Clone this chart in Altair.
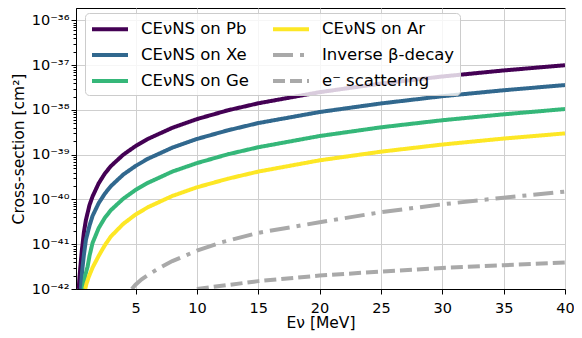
import altair as alt
import pandas as pd

# ---- data ----
names = ["CEνNS on Pb", "CEνNS on Xe", "CEνNS on Ge", "CEνNS on Ar", "Inverse β-decay", "e⁻ scattering"]
colors = ["#440154", "#31688e", "#35b779", "#fde725", "#a9a9a9", "#a9a9a9"]
dashes = [[1, 0], [1, 0], [1, 0], [1, 0], [20, 7, 4, 7], [12, 5]]
widths = [4, 4, 4, 4, 4, 3]

pb_E = [0.37, 0.42, 0.5, 0.63, 0.8, 0.96, 1.25, 1.5, 2, 2.5, 3, 4, 5, 6, 8, 10, 12.5, 15, 20, 25, 30, 35, 40]
pb_s = [1.0e-42, 1.6e-42, 3.0e-42, 7.5e-42, 1.9e-41, 3.5e-41, 7.5e-41, 1.17e-40, 2.3e-40, 3.8e-40, 5.6e-40,
        1.0e-39, 1.56e-39, 2.25e-39, 4.0e-39, 6.25e-39, 9.8e-39, 1.41e-38, 2.5e-38, 3.9e-38, 5.6e-38, 7.65e-38, 1.0e-37]

xe_E = [0.55, 0.62, 0.69, 0.8, 0.96, 1.25, 1.5, 2, 2.5, 3, 4, 5, 6, 8, 10, 12.5, 15, 20, 25, 30, 35, 40]
xe_s = [1.0e-42, 2.0e-42, 3.2e-42, 6.0e-42, 1.26e-41, 2.6e-41, 4.3e-41, 8.3e-41, 1.35e-40, 2.0e-40, 3.6e-40,
        5.6e-40, 8.1e-40, 1.44e-39, 2.25e-39, 3.5e-39, 5.1e-39, 9.0e-39, 1.4e-38, 2.03e-38, 2.76e-38, 3.6e-38]

ge_E = [0.77, 0.9, 1.1, 1.25, 1.5, 2, 2.5, 3, 4, 5, 6, 8, 10, 12.5, 15, 20, 25, 30, 35, 40]
ge_s = [1.0e-42, 2.0e-42, 3.2e-42, 5.5e-42, 1.07e-41, 2.3e-41, 3.9e-41, 5.8e-41, 1.04e-40, 1.63e-40, 2.35e-40,
        4.2e-40, 6.5e-40, 1.02e-39, 1.47e-39, 2.62e-39, 4.1e-39, 5.9e-39, 8.0e-39, 1.05e-38]

ar_E = [0.9, 1.0, 1.2, 1.5, 2, 2.5, 3, 4, 5, 6, 8, 10, 12.5, 15, 20, 25, 30, 35, 40]
ar_s = [1.0e-42, 1.3e-42, 1.9e-42, 3.0e-42, 5.5e-42, 9.5e-42, 1.5e-41, 2.85e-41, 4.6e-41, 6.7e-41, 1.2e-40,
        1.87e-40, 2.9e-40, 4.2e-40, 7.5e-40, 1.17e-39, 1.69e-39, 2.3e-39, 3.0e-39]

ibd_E = [4.7, 5, 5.5, 6, 7, 8, 10, 12, 15, 20, 25, 30, 35, 40]
ibd_s = [1.0e-42, 1.25e-42, 1.65e-42, 2.05e-42, 3.0e-42, 4.2e-42, 7.2e-42, 1.1e-41, 1.8e-41, 3.1e-41,
         5.2e-41, 7.8e-41, 1.1e-40, 1.5e-40]

es_E = [10, 15, 20, 25, 30, 35, 40]
es_s = [1.0e-42, 1.5e-42, 2.0e-42, 2.45e-42, 2.95e-42, 3.4e-42, 3.9e-42]

x_ticks = [5, 10, 15, 20, 25, 30, 35, 40]
y_sup = ["⁻⁴²", "⁻⁴¹", "⁻⁴⁰", "⁻³⁹", "⁻³⁸", "⁻³⁷", "⁻³⁶"]

series = [
    ("CEνNS on Pb", pb_E, pb_s),
    ("CEνNS on Xe", xe_E, xe_s),
    ("CEνNS on Ge", ge_E, ge_s),
    ("CEνNS on Ar", ar_E, ar_s),
    ("Inverse β-decay", ibd_E, ibd_s),
    ("e⁻ scattering", es_E, es_s),
]
rows = []
for i, (name, E, s) in enumerate(series):
    for e, v in zip(E, s):
        rows.append({"name": name, "E": e, "sigma": v, "z": i})
df = pd.DataFrame(rows)

# y tick values: majors at decades, minors at 2..9
y_vals = []
for d in range(-42, -36):
    y_vals.append(float(f"1e{d}"))
    for m in range(2, 10):
        y_vals.append(float(f"{m}e{d}"))
y_vals.append(1e-36)

major = "abs(log(datum.value)/LN10 - round(log(datum.value)/LN10)) < 0.001"
sup_js = "[" + ",".join("'" + s + "'" for s in y_sup) + "]"
label_expr = f"({major}) ? '10' + {sup_js}[round(log(datum.value)/LN10) + 42] : ''"

FONT = "DejaVu Sans"

chart = alt.Chart(df).mark_line(clip=True).encode(
    x=alt.X("E:Q",
            scale=alt.Scale(domain=[0.15, 40], nice=False, zero=False),
            axis=alt.Axis(values=x_ticks, title="Eν [MeV]", labelFlush=False,
                          tickSize=5, labelPadding=7, titlePadding=1)),
    y=alt.Y("sigma:Q",
            scale=alt.Scale(type="log", domain=[1e-42, 1.9e-36], nice=False),
            axis=alt.Axis(values=y_vals, labelExpr=label_expr, labelOverlap=False,
                          labelFlush=False,
                          title="Cross-section [cm²]", titlePadding=5,
                          tickSize={"condition": {"test": major, "value": 5}, "value": 3},
                          gridOpacity={"condition": {"test": major, "value": 1}, "value": 0})),
    color=alt.Color("name:N",
                    scale=alt.Scale(domain=names, range=colors),
                    legend=alt.Legend(orient="none", legendX=9, legendY=5, columns=2, title=None,
                                      symbolType="M-2,0H2", symbolSize=324, symbolStrokeWidth=4,
                                      symbolOffset=9,
                                      labelFontSize=16.5, labelFont=FONT, labelLimit=400,
                                      fillColor="rgba(255,255,255,0.8)", strokeColor="#cccccc",
                                      cornerRadius=4, padding=5, columnPadding=16,
                                      rowPadding=6, labelOffset=20)),
    strokeDash=alt.StrokeDash("name:N", scale=alt.Scale(domain=names, range=dashes), legend=None),
    strokeWidth=alt.StrokeWidth("name:N", scale=alt.Scale(domain=names, range=widths), legend=None),
    order=alt.Order("z:Q"),
    detail="name:N",
).properties(
    width=489, height=281,
    autosize=alt.AutoSizeParams(type="none"),
    padding={"left": 68, "top": 0, "right": 9, "bottom": 46},
).configure_axis(
    labelFont=FONT, titleFont=FONT, labelFontSize=14.5, titleFontSize=15.5,
    titleFontWeight="normal", labelColor="black", titleColor="black",
    tickColor="black", domainColor="black", gridColor="#cfcfcf", gridWidth=1,
).configure_view(stroke="black", strokeWidth=1)

chart.save("out.html", embed_options={"renderer": "svg", "actions": False})
